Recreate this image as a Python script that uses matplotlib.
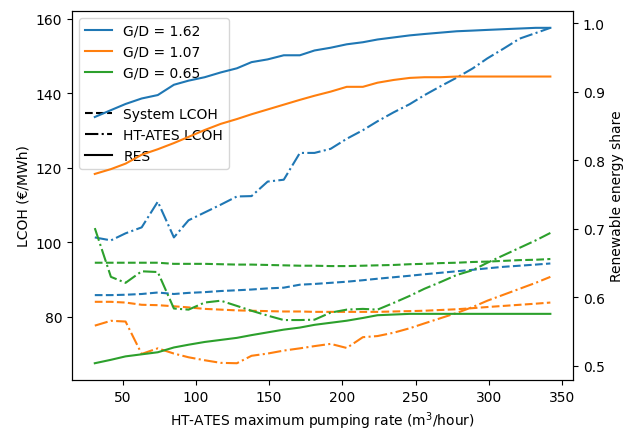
import matplotlib
matplotlib.use("Agg")

import matplotlib.pyplot as plt
from matplotlib.lines import Line2D

# HT-ATES maximum pumping rate (m3/hour)
pump_rate = [31, 42, 52, 63, 74, 85, 95, 106, 117, 128,
             138, 149, 160, 171, 181, 192, 203, 214, 224, 235,
             246, 256, 267, 278, 289, 299, 310, 321, 332, 342]

# System LCOH (EUR/MWh)
sys_lcoh_162 = [85.8, 85.8, 85.9, 86.1, 86.5, 86.1, 86.4, 86.6, 86.9, 87.1,
                87.3, 87.6, 87.8, 88.6, 88.8, 89.1, 89.4, 89.8, 90.2, 90.6,
                91.0, 91.4, 91.8, 92.2, 92.6, 93.0, 93.4, 93.7, 94.0, 94.3]
sys_lcoh_107 = [84.0, 84.0, 83.8, 83.2, 83.1, 82.8, 82.5, 82.1, 81.9, 81.7,
                81.6, 81.5, 81.4, 81.4, 81.3, 81.3, 81.3, 81.3, 81.3, 81.4,
                81.5, 81.6, 81.8, 82.0, 82.3, 82.6, 82.9, 83.2, 83.5, 83.8]
sys_lcoh_065 = [94.5, 94.5, 94.5, 94.5, 94.5, 94.2, 94.2, 94.2, 94.1, 94.0,
                94.0, 93.9, 93.8, 93.7, 93.7, 93.6, 93.6, 93.7, 93.8, 93.9,
                94.1, 94.2, 94.4, 94.5, 94.7, 94.8, 95.0, 95.2, 95.3, 95.5]

# HT-ATES LCOH (EUR/MWh)
ates_lcoh_162 = [101.3, 100.5, 102.4, 104.0, 110.9, 101.3, 105.9, 108.0, 110.1, 112.3,
                 112.4, 116.3, 116.8, 124.0, 124.0, 125.1, 127.8, 130.1, 132.5, 134.9,
                 137.1, 139.5, 141.9, 144.2, 146.7, 149.4, 152.0, 154.7, 156.2, 157.6]
ates_lcoh_107 = [77.6, 78.9, 78.7, 70.0, 71.5, 70.1, 69.1, 68.3, 67.6, 67.5,
                 69.5, 70.1, 70.9, 71.5, 72.1, 72.7, 71.6, 74.5, 74.8, 75.7,
                 76.9, 78.2, 79.6, 81.0, 82.6, 84.3, 85.9, 87.5, 89.1, 90.7]
ates_lcoh_065 = [103.8, 90.7, 89.1, 92.2, 92.0, 82.2, 81.9, 83.8, 84.3, 82.9,
                 81.6, 80.3, 79.1, 79.1, 79.2, 81.1, 81.9, 82.1, 81.9, 83.7,
                 85.6, 87.5, 89.3, 91.2, 92.5, 94.5, 96.5, 98.5, 100.5, 102.5]

# Renewable energy share
res_162 = [0.863, 0.873, 0.882, 0.890, 0.895, 0.910, 0.916, 0.921, 0.928, 0.934,
           0.943, 0.947, 0.953, 0.953, 0.960, 0.964, 0.969, 0.972, 0.976, 0.979,
           0.982, 0.984, 0.986, 0.988, 0.989, 0.990, 0.991, 0.992, 0.993, 0.993]
res_107 = [0.780, 0.787, 0.795, 0.808, 0.816, 0.825, 0.834, 0.844, 0.853, 0.860,
           0.867, 0.874, 0.881, 0.888, 0.894, 0.900, 0.907, 0.907, 0.913, 0.917,
           0.920, 0.921, 0.921, 0.922, 0.922, 0.922, 0.922, 0.922, 0.922, 0.922]
res_065 = [0.504, 0.509, 0.514, 0.517, 0.520, 0.527, 0.531, 0.535, 0.538, 0.541,
           0.545, 0.549, 0.553, 0.556, 0.560, 0.563, 0.566, 0.570, 0.574, 0.575,
           0.576, 0.576, 0.576, 0.576, 0.576, 0.576, 0.576, 0.576, 0.576, 0.576]

gd_labels = ["G/D = 1.62", "G/D = 1.07", "G/D = 0.65"]
colors = ["C0", "C1", "C2"]

fig, ax = plt.subplots(figsize=(6.34, 4.31), dpi=100)
fig.subplots_adjust(left=0.1136, right=0.904, top=0.972, bottom=0.116)
ax2 = ax.twinx()

for c, s, h, r in zip(colors,
                      [sys_lcoh_162, sys_lcoh_107, sys_lcoh_065],
                      [ates_lcoh_162, ates_lcoh_107, ates_lcoh_065],
                      [res_162, res_107, res_065]):
    ax.plot(pump_rate, s, color=c, linestyle="--")
    ax.plot(pump_rate, h, color=c, linestyle="-.")
    ax2.plot(pump_rate, r, color=c, linestyle="-")

ax.set_xlabel("HT-ATES maximum pumping rate (m$^3$/hour)")
ax.set_ylabel("LCOH (€/MWh)")
ax2.set_ylabel("Renewable energy share")

handles = [Line2D([], [], color=c, label=l) for c, l in zip(colors, gd_labels)]
handles.append(Line2D([], [], color="none", label=" "))
handles.append(Line2D([], [], color="k", linestyle="--", label="System LCOH"))
handles.append(Line2D([], [], color="k", linestyle="-.", label="HT-ATES LCOH"))
handles.append(Line2D([], [], color="k", linestyle="-", label="RES"))
ax.legend(handles=handles, loc="upper left")

plt.savefig("out.png", dpi=100)
